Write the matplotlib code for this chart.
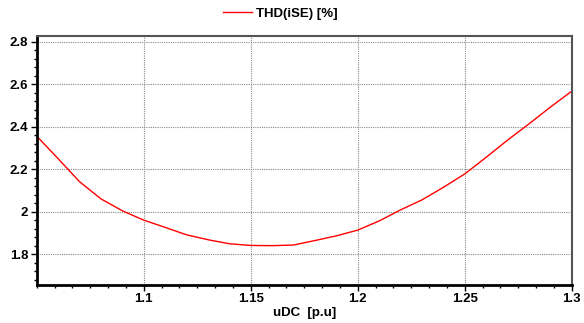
import numpy as np
import matplotlib.pyplot as plt
from matplotlib.ticker import MultipleLocator

# uDC sweep [p.u] and the resulting THD of iSE [%]
udc = [1.05, 1.06, 1.07, 1.08, 1.09, 1.10, 1.11, 1.12, 1.13, 1.14,
       1.15, 1.16, 1.17, 1.18, 1.19, 1.20, 1.21, 1.22, 1.23, 1.24,
       1.25, 1.26, 1.27, 1.28, 1.29, 1.30]
thd = [2.356, 2.250, 2.142, 2.061, 2.005, 1.961, 1.927, 1.892, 1.869, 1.850,
       1.842, 1.841, 1.844, 1.865, 1.887, 1.914, 1.957, 2.009, 2.056, 2.115,
       2.178, 2.256, 2.337, 2.413, 2.492, 2.567]

xticks = [1.1, 1.15, 1.2, 1.25, 1.3]
xlabels = ["1.1", "1.15", "1.2", "1.25", "1.3"]
yticks = [1.8, 2.0, 2.2, 2.4, 2.6, 2.8]
ylabels = ["1.8", "2", "2.2", "2.4", "2.6", "2.8"]


def main():
    plt.rcParams['font.family'] = ['Liberation Sans', 'DejaVu Sans']
    plt.rcParams['font.weight'] = 'bold'

    fig = plt.figure(figsize=(5.84, 3.23), dpi=100)
    ax = fig.add_axes([0.0628, 0.1176, 0.979 - 0.0628, 0.887 - 0.1176])

    line, = ax.plot(udc, thd, color='#ff0000', lw=1.0)

    ax.set_xlim(1.05, 1.3)
    ax.set_ylim(1.656, 2.824)
    ax.set_xticks(xticks)
    ax.set_xticklabels(xlabels, fontsize=9.5, fontweight='bold')
    ax.set_yticks(yticks)
    ax.set_yticklabels(ylabels, fontsize=9.5, fontweight='bold')
    ax.xaxis.set_minor_locator(MultipleLocator(0.05 / 6))
    ax.yaxis.set_minor_locator(MultipleLocator(0.04))
    ax.tick_params(which='major', direction='out', length=4, width=1, pad=2)
    ax.tick_params(which='minor', direction='out', length=2, width=1)

    ax.grid(True, which='major', color='#8a8a8a', ls=(0, (1, 1)), lw=0.8)

    for side in ('left', 'bottom'):
        ax.spines[side].set_color('black')
        ax.spines[side].set_linewidth(2)
    for side in ('top', 'right'):
        ax.spines[side].set_color('#555555')
        ax.spines[side].set_linewidth(1.5)

    ax.set_xlabel("uDC  [p.u]", fontsize=9.5, fontweight='bold', labelpad=1)

    fig.legend([line], ["THD(iSE) [%]"], loc='center',
               bbox_to_anchor=(280 / 584, 1 - 14 / 323), frameon=False,
               prop={'size': 9.5, 'weight': 'bold'}, handlelength=2.2,
               handletextpad=0.3)

    fig.savefig('out.png', dpi=100)


if __name__ == '__main__':
    main()
